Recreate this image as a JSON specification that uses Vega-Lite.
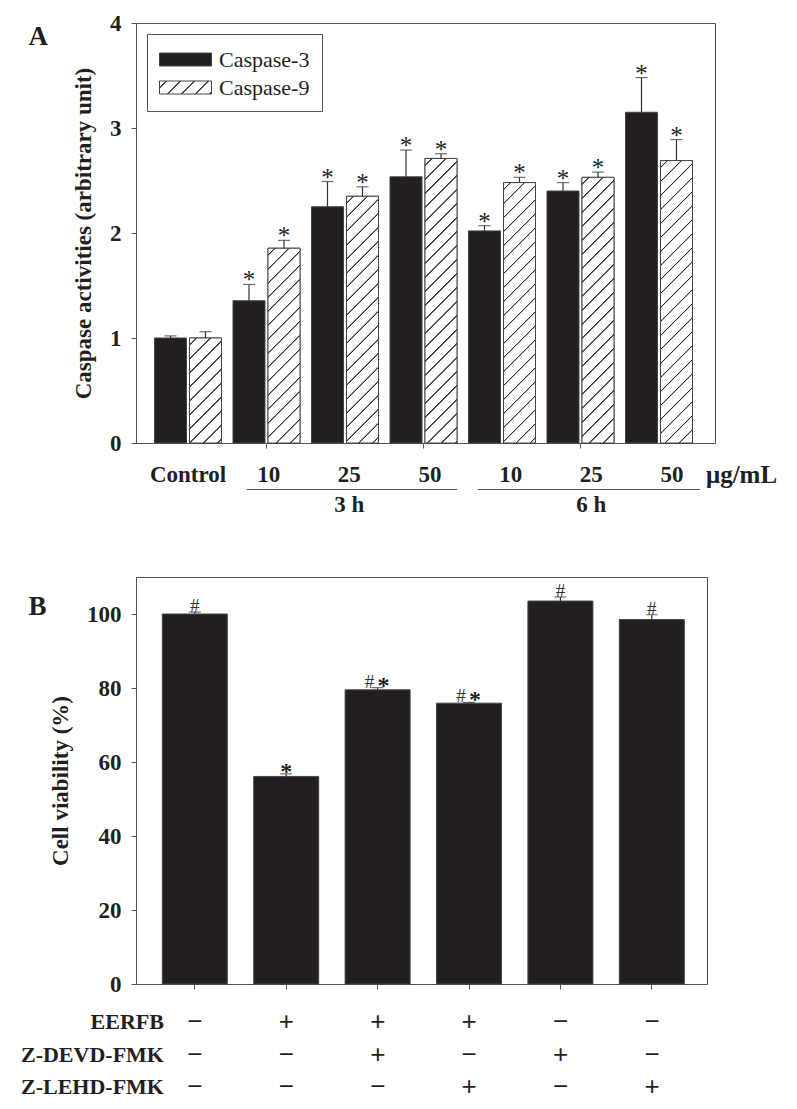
{
  "$schema": "https://vega.github.io/schema/vega-lite/v6.json",
  "background": "white",
  "padding": {"left": 20, "top": 11, "right": 0, "bottom": 0},
  "spacing": 0,
  "params": [
    {"name": "hatchStops", "value": [
      {"offset": 0, "color": "#ffffff"},
      {"offset": 0.01844, "color": "#ffffff"}, {"offset": 0.02063, "color": "#2b2b2b"}, {"offset": 0.02313, "color": "#2b2b2b"}, {"offset": 0.02531, "color": "#ffffff"},
      {"offset": 0.06219, "color": "#ffffff"}, {"offset": 0.06438, "color": "#2b2b2b"}, {"offset": 0.06688, "color": "#2b2b2b"}, {"offset": 0.06906, "color": "#ffffff"},
      {"offset": 0.10594, "color": "#ffffff"}, {"offset": 0.10813, "color": "#2b2b2b"}, {"offset": 0.11063, "color": "#2b2b2b"}, {"offset": 0.11281, "color": "#ffffff"},
      {"offset": 0.14969, "color": "#ffffff"}, {"offset": 0.15188, "color": "#2b2b2b"}, {"offset": 0.15438, "color": "#2b2b2b"}, {"offset": 0.15656, "color": "#ffffff"},
      {"offset": 0.19344, "color": "#ffffff"}, {"offset": 0.19563, "color": "#2b2b2b"}, {"offset": 0.19813, "color": "#2b2b2b"}, {"offset": 0.20031, "color": "#ffffff"},
      {"offset": 0.23719, "color": "#ffffff"}, {"offset": 0.23938, "color": "#2b2b2b"}, {"offset": 0.24188, "color": "#2b2b2b"}, {"offset": 0.24406, "color": "#ffffff"},
      {"offset": 0.28094, "color": "#ffffff"}, {"offset": 0.28313, "color": "#2b2b2b"}, {"offset": 0.28563, "color": "#2b2b2b"}, {"offset": 0.28781, "color": "#ffffff"},
      {"offset": 0.32469, "color": "#ffffff"}, {"offset": 0.32688, "color": "#2b2b2b"}, {"offset": 0.32938, "color": "#2b2b2b"}, {"offset": 0.33156, "color": "#ffffff"},
      {"offset": 0.36844, "color": "#ffffff"}, {"offset": 0.37063, "color": "#2b2b2b"}, {"offset": 0.37313, "color": "#2b2b2b"}, {"offset": 0.37531, "color": "#ffffff"},
      {"offset": 0.41219, "color": "#ffffff"}, {"offset": 0.41438, "color": "#2b2b2b"}, {"offset": 0.41688, "color": "#2b2b2b"}, {"offset": 0.41906, "color": "#ffffff"},
      {"offset": 0.45594, "color": "#ffffff"}, {"offset": 0.45813, "color": "#2b2b2b"}, {"offset": 0.46063, "color": "#2b2b2b"}, {"offset": 0.46281, "color": "#ffffff"},
      {"offset": 0.49969, "color": "#ffffff"}, {"offset": 0.50188, "color": "#2b2b2b"}, {"offset": 0.50438, "color": "#2b2b2b"}, {"offset": 0.50656, "color": "#ffffff"},
      {"offset": 0.54344, "color": "#ffffff"}, {"offset": 0.54563, "color": "#2b2b2b"}, {"offset": 0.54813, "color": "#2b2b2b"}, {"offset": 0.55031, "color": "#ffffff"},
      {"offset": 0.58719, "color": "#ffffff"}, {"offset": 0.58938, "color": "#2b2b2b"}, {"offset": 0.59188, "color": "#2b2b2b"}, {"offset": 0.59406, "color": "#ffffff"},
      {"offset": 0.63094, "color": "#ffffff"}, {"offset": 0.63313, "color": "#2b2b2b"}, {"offset": 0.63563, "color": "#2b2b2b"}, {"offset": 0.63781, "color": "#ffffff"},
      {"offset": 0.67469, "color": "#ffffff"}, {"offset": 0.67688, "color": "#2b2b2b"}, {"offset": 0.67938, "color": "#2b2b2b"}, {"offset": 0.68156, "color": "#ffffff"},
      {"offset": 0.71844, "color": "#ffffff"}, {"offset": 0.72063, "color": "#2b2b2b"}, {"offset": 0.72313, "color": "#2b2b2b"}, {"offset": 0.72531, "color": "#ffffff"},
      {"offset": 0.76219, "color": "#ffffff"}, {"offset": 0.76438, "color": "#2b2b2b"}, {"offset": 0.76688, "color": "#2b2b2b"}, {"offset": 0.76906, "color": "#ffffff"},
      {"offset": 0.80594, "color": "#ffffff"}, {"offset": 0.80813, "color": "#2b2b2b"}, {"offset": 0.81063, "color": "#2b2b2b"}, {"offset": 0.81281, "color": "#ffffff"},
      {"offset": 0.84969, "color": "#ffffff"}, {"offset": 0.85188, "color": "#2b2b2b"}, {"offset": 0.85438, "color": "#2b2b2b"}, {"offset": 0.85656, "color": "#ffffff"},
      {"offset": 0.89344, "color": "#ffffff"}, {"offset": 0.89563, "color": "#2b2b2b"}, {"offset": 0.89813, "color": "#2b2b2b"}, {"offset": 0.90031, "color": "#ffffff"},
      {"offset": 0.93719, "color": "#ffffff"}, {"offset": 0.93938, "color": "#2b2b2b"}, {"offset": 0.94188, "color": "#2b2b2b"}, {"offset": 0.94406, "color": "#ffffff"},
      {"offset": 0.98094, "color": "#ffffff"}, {"offset": 0.98313, "color": "#2b2b2b"}, {"offset": 0.98563, "color": "#2b2b2b"}, {"offset": 0.98781, "color": "#ffffff"},
      {"offset": 1, "color": "#ffffff"}
    ]}
  ],
  "vconcat": [
    {
      "width": 579,
      "height": 420,
      "title": {"text": "A", "orient": "left", "anchor": "end", "angle": 0, "align": "right", "baseline": "top", "font": "Liberation Serif", "fontSize": 27, "fontWeight": "bold", "color": "#231f20", "offset": 5, "dy": 12},
      "data": {"values": [
        {"group": "Control", "series": "Caspase-3", "value": 1.0, "upper": 1.02, "sig": ""},
        {"group": "Control", "series": "Caspase-9", "value": 1.0, "upper": 1.06, "sig": ""},
        {"group": "3h-10", "series": "Caspase-3", "value": 1.355, "upper": 1.51, "sig": "*"},
        {"group": "3h-10", "series": "Caspase-9", "value": 1.855, "upper": 1.93, "sig": "*"},
        {"group": "3h-25", "series": "Caspase-3", "value": 2.25, "upper": 2.49, "sig": "*"},
        {"group": "3h-25", "series": "Caspase-9", "value": 2.35, "upper": 2.44, "sig": "*"},
        {"group": "3h-50", "series": "Caspase-3", "value": 2.535, "upper": 2.79, "sig": "*"},
        {"group": "3h-50", "series": "Caspase-9", "value": 2.71, "upper": 2.755, "sig": "*"},
        {"group": "6h-10", "series": "Caspase-3", "value": 2.02, "upper": 2.07, "sig": "*"},
        {"group": "6h-10", "series": "Caspase-9", "value": 2.48, "upper": 2.53, "sig": "*"},
        {"group": "6h-25", "series": "Caspase-3", "value": 2.4, "upper": 2.48, "sig": "*"},
        {"group": "6h-25", "series": "Caspase-9", "value": 2.53, "upper": 2.58, "sig": "*"},
        {"group": "6h-50", "series": "Caspase-3", "value": 3.15, "upper": 3.48, "sig": "*"},
        {"group": "6h-50", "series": "Caspase-9", "value": 2.69, "upper": 2.89, "sig": "*"}
      ]},
      "encoding": {
        "x": {"field": "group", "type": "nominal", "sort": null,
          "scale": {"domain": ["Control", "3h-10", "3h-25", "3h-50", "6h-10", "6h-25", "6h-50"], "paddingInner": 0.1465, "paddingOuter": 0.2611, "align": 0.451},
          "axis": {"values": ["3h-10", "3h-50", "6h-25"], "labels": false, "title": null}},
        "xOffset": {"field": "series", "type": "nominal", "scale": {"domain": ["Caspase-3", "Caspase-9"], "paddingInner": 0.0857, "paddingOuter": 0}}
      },
      "layer": [
        {
          "mark": {"type": "bar", "stroke": "#444444", "strokeWidth": 1},
          "encoding": {
            "y": {"field": "value", "type": "quantitative", "scale": {"domain": [0, 4], "nice": false},
              "axis": {"values": [0, 1, 2, 3, 4], "format": "d", "title": "Caspase activities (arbitrary unit)", "labelPadding": 10, "titlePadding": 14}},
            "fill": {"field": "series", "type": "nominal",
              "scale": {"domain": ["Caspase-3", "Caspase-9"], "range": ["#231f20", {"expr": "{gradient: 'linear', x1: 0, y1: 0, x2: 5.792, y2: 1.448, stops: hatchStops}"}]},
              "legend": {"orient": "top-left", "offset": 11, "title": null, "symbolType": "M-1,-0.5H3V0.5H-1Z", "symbolSize": 676,
                "symbolStrokeColor": "#444444", "symbolStrokeWidth": 1, "labelFont": "Liberation Serif", "labelFontSize": 22, "labelFontWeight": "normal",
                "labelColor": "#231f20", "labelOffset": 33, "rowPadding": 3, "padding": 12, "strokeColor": "#555555", "fillColor": "white",
                "labelExpr": "datum.label + '\u00a0\u00a0\u00a0'",
                "encode": {"symbols": {"update": {"stroke": {"value": "#444444"}, "strokeWidth": {"value": 1}}}}}}
          }
        },
        {
          "transform": [{"filter": "datum.series === 'Caspase-9'"}],
          "mark": {"type": "bar", "stroke": "#444444", "strokeWidth": 1},
          "encoding": {
            "y": {"field": "value", "type": "quantitative", "scale": {"domain": [0, 4], "nice": false}},
            "fill": {"value": {"expr": "{gradient: 'linear', x1: 0, y1: 0, x2: 10240 / (1024 + pow(datum.value * 105, 2)), y2: 33600 * datum.value / (1024 + pow(datum.value * 105, 2)), stops: hatchStops}"}}
          }
        },
        {
          "mark": {"type": "rule", "color": "#333333", "strokeWidth": 1.2},
          "encoding": {
            "y": {"field": "value", "type": "quantitative", "scale": {"domain": [0, 4], "nice": false}},
            "y2": {"field": "upper"}
          }
        },
        {
          "mark": {"type": "tick", "color": "#333333", "thickness": 1.2, "size": 12, "orient": "horizontal"},
          "encoding": {
            "y": {"field": "upper", "type": "quantitative", "scale": {"domain": [0, 4], "nice": false}}
          }
        },
        {
          "mark": {"type": "text", "font": "Liberation Serif", "fontSize": 25, "baseline": "alphabetic", "dy": 4, "color": "#231f20"},
          "encoding": {
            "y": {"field": "upper", "type": "quantitative", "scale": {"domain": [0, 4], "nice": false}},
            "text": {"field": "sig"}
          }
        }
      ]
    },
    {
      "width": 588,
      "height": 120,
      "view": {"stroke": null},
      "encoding": {
        "x": {"field": "pos", "type": "nominal", "sort": null,
          "scale": {"type": "point", "domain": ["Control", "3h-10", "3h-25", "3h-50", "6h-10", "6h-25", "6h-50"], "padding": 0.645}, "axis": null}
      },
      "layer": [
        {
          "data": {"values": [
            {"pos": "Control", "label": "Control"}, {"pos": "3h-10", "label": "10"}, {"pos": "3h-25", "label": "25"}, {"pos": "3h-50", "label": "50"},
            {"pos": "6h-10", "label": "10"}, {"pos": "6h-25", "label": "25"}, {"pos": "6h-50", "label": "50"}
          ]},
          "mark": {"type": "text", "font": "Liberation Serif", "fontWeight": "bold", "fontSize": 23, "color": "#231f20"},
          "encoding": {
            "y": {"datum": "dose", "type": "ordinal", "scale": {"type": "point", "domain": ["dose", "line", "time"], "range": [18.5, 48.5], "padding": 0}, "axis": null},
            "text": {"field": "label"}
          }
        },
        {
          "data": {"values": [{"pos": "3h-10", "pos2": "3h-50"}]},
          "mark": {"type": "rule", "color": "#555555", "strokeWidth": 1.2, "xOffset": -22, "x2Offset": 27},
          "encoding": {"x2": {"field": "pos2"}, "y": {"datum": "line", "type": "ordinal"}}
        },
        {
          "data": {"values": [{"pos": "6h-10", "pos2": "6h-50"}]},
          "mark": {"type": "rule", "color": "#555555", "strokeWidth": 1.2, "xOffset": -33, "x2Offset": 28},
          "encoding": {"x2": {"field": "pos2"}, "y": {"datum": "line", "type": "ordinal"}}
        },
        {
          "data": {"values": [{"pos": "3h-25", "label": "3 h"}, {"pos": "6h-25", "label": "6 h"}]},
          "mark": {"type": "text", "font": "Liberation Serif", "fontWeight": "bold", "fontSize": 23, "color": "#231f20"},
          "encoding": {"y": {"datum": "time", "type": "ordinal"}, "text": {"field": "label"}}
        },
        {
          "data": {"values": [{"pos": "6h-50", "label": "μg/mL"}]},
          "mark": {"type": "text", "font": "Liberation Serif", "fontWeight": "bold", "fontSize": 25, "color": "#231f20", "align": "left", "dx": 34},
          "encoding": {"y": {"datum": "dose", "type": "ordinal"}, "text": {"field": "label"}}
        }
      ]
    },
    {
      "width": 571,
      "height": 407,
      "title": {"text": "B", "orient": "left", "anchor": "end", "angle": 0, "align": "right", "baseline": "top", "font": "Liberation Serif", "fontSize": 27, "fontWeight": "bold", "color": "#231f20", "offset": -15, "dy": 17},
      "data": {"values": [
        {"cond": "c1", "value": 100.0, "upper": 100.5, "ann": "#"},
        {"cond": "c2", "value": 56.1, "upper": 56.8, "ann": "*"},
        {"cond": "c3", "value": 79.5, "upper": 80.1, "ann": "#*"},
        {"cond": "c4", "value": 75.9, "upper": 76.1, "ann": "#*"},
        {"cond": "c5", "value": 103.5, "upper": 104.6, "ann": "#"},
        {"cond": "c6", "value": 98.5, "upper": 99.8, "ann": "#"}
      ]},
      "encoding": {
        "x": {"field": "cond", "type": "nominal", "sort": null,
          "scale": {"domain": ["c1", "c2", "c3", "c4", "c5", "c6"], "paddingInner": 0.2888, "paddingOuter": 0.268, "align": 0.537},
          "axis": {"labels": false, "title": null}}
      },
      "layer": [
        {
          "mark": {"type": "bar", "fill": "#231f20", "stroke": "#444444", "strokeWidth": 1},
          "encoding": {
            "y": {"field": "value", "type": "quantitative", "scale": {"domain": [0, 110], "nice": false},
              "axis": {"values": [0, 20, 40, 60, 80, 100], "title": "Cell viability (%)", "labelPadding": 10, "titlePadding": 14}}
          }
        },
        {
          "mark": {"type": "rule", "color": "#333333", "strokeWidth": 1.2},
          "encoding": {
            "y": {"field": "value", "type": "quantitative", "scale": {"domain": [0, 110], "nice": false}},
            "y2": {"field": "upper"}
          }
        },
        {
          "mark": {"type": "tick", "color": "#333333", "thickness": 1.2, "size": 12, "orient": "horizontal"},
          "encoding": {"y": {"field": "upper", "type": "quantitative", "scale": {"domain": [0, 110], "nice": false}}}
        },
        {
          "transform": [{"filter": "datum.ann === '#'"}],
          "mark": {"type": "text", "text": "#", "font": "Liberation Serif", "fontSize": 19, "baseline": "alphabetic", "dy": 0, "color": "#333333"},
          "encoding": {"y": {"field": "upper", "type": "quantitative", "scale": {"domain": [0, 110], "nice": false}}}
        },
        {
          "transform": [{"filter": "datum.ann === '#*'"}],
          "mark": {"type": "text", "text": "#", "font": "Liberation Serif", "fontSize": 19, "baseline": "alphabetic", "dx": -8, "dy": 0, "color": "#333333"},
          "encoding": {"y": {"field": "upper", "type": "quantitative", "scale": {"domain": [0, 110], "nice": false}}}
        },
        {
          "transform": [{"filter": "datum.ann === '*'"}],
          "mark": {"type": "text", "text": "*", "font": "Liberation Serif", "fontWeight": "bold", "fontSize": 24, "baseline": "alphabetic", "dy": 5, "color": "#231f20"},
          "encoding": {"y": {"field": "upper", "type": "quantitative", "scale": {"domain": [0, 110], "nice": false}}}
        },
        {
          "transform": [{"filter": "datum.ann === '#*'"}],
          "mark": {"type": "text", "text": "*", "font": "Liberation Serif", "fontWeight": "bold", "fontSize": 24, "baseline": "alphabetic", "dx": 6, "dy": 5, "color": "#231f20"},
          "encoding": {"y": {"field": "upper", "type": "quantitative", "scale": {"domain": [0, 110], "nice": false}}}
        }
      ]
    },
    {
      "width": 575,
      "height": 110,
      "view": {"stroke": null},
      "data": {"values": [
        {"cond": "c1", "row": "EERFB", "sign": "−"}, {"cond": "c2", "row": "EERFB", "sign": "+"}, {"cond": "c3", "row": "EERFB", "sign": "+"},
        {"cond": "c4", "row": "EERFB", "sign": "+"}, {"cond": "c5", "row": "EERFB", "sign": "−"}, {"cond": "c6", "row": "EERFB", "sign": "−"},
        {"cond": "c1", "row": "Z-DEVD-FMK", "sign": "−"}, {"cond": "c2", "row": "Z-DEVD-FMK", "sign": "−"}, {"cond": "c3", "row": "Z-DEVD-FMK", "sign": "+"},
        {"cond": "c4", "row": "Z-DEVD-FMK", "sign": "−"}, {"cond": "c5", "row": "Z-DEVD-FMK", "sign": "+"}, {"cond": "c6", "row": "Z-DEVD-FMK", "sign": "−"},
        {"cond": "c1", "row": "Z-LEHD-FMK", "sign": "−"}, {"cond": "c2", "row": "Z-LEHD-FMK", "sign": "−"}, {"cond": "c3", "row": "Z-LEHD-FMK", "sign": "−"},
        {"cond": "c4", "row": "Z-LEHD-FMK", "sign": "+"}, {"cond": "c5", "row": "Z-LEHD-FMK", "sign": "−"}, {"cond": "c6", "row": "Z-LEHD-FMK", "sign": "+"}
      ]},
      "encoding": {
        "x": {"field": "cond", "type": "nominal", "sort": null,
          "scale": {"type": "point", "domain": ["c1", "c2", "c3", "c4", "c5", "c6"], "padding": 0.645}, "axis": null},
        "y": {"field": "row", "type": "ordinal", "sort": null,
          "scale": {"type": "point", "domain": ["EERFB", "Z-DEVD-FMK", "Z-LEHD-FMK"], "range": [25, 90], "padding": 0}, "axis": null}
      },
      "layer": [
        {
          "mark": {"type": "text", "font": "Liberation Sans", "fontSize": 26, "color": "#231f20"},
          "encoding": {"text": {"field": "sign"}}
        },
        {
          "transform": [{"filter": "datum.cond === 'c1'"}],
          "mark": {"type": "text", "font": "Liberation Serif", "fontWeight": "bold", "fontSize": 22, "align": "right", "dx": -31, "color": "#231f20"},
          "encoding": {"text": {"field": "row"}}
        }
      ]
    }
  ],
  "config": {
    "view": {"stroke": "#555555", "strokeWidth": 1},
    "axis": {
      "labelFont": "Liberation Serif", "labelFontWeight": "bold", "labelFontSize": 23, "labelColor": "#231f20",
      "titleFont": "Liberation Serif", "titleFontWeight": "bold", "titleFontSize": 23, "titleColor": "#231f20",
      "domainColor": "#555555", "tickColor": "#555555", "tickSize": 5, "grid": false
    }
  }
}
